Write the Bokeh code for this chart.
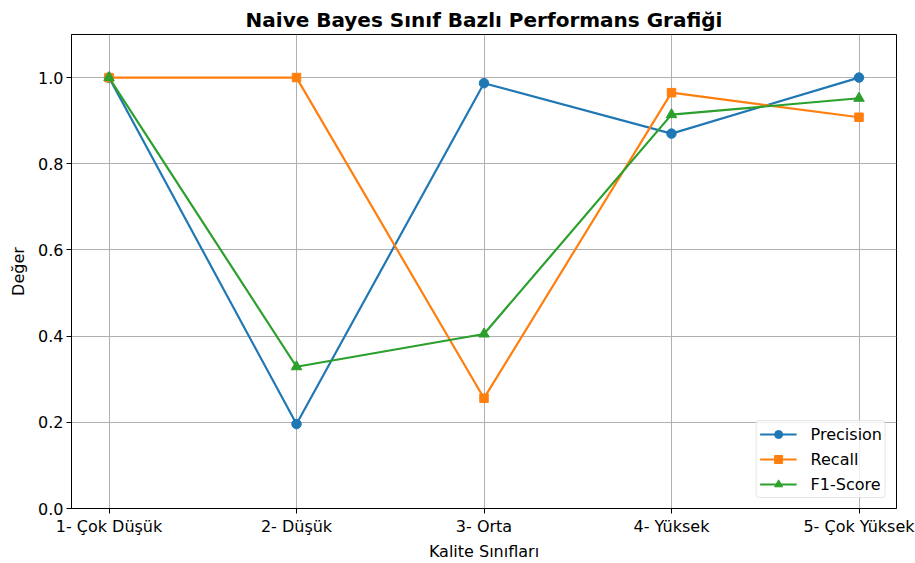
from bokeh.plotting import figure
from bokeh.models import FixedTicker, PrintfTickFormatter, Range1d, Legend, LegendItem
from bokeh.embed import file_html
from bokeh.resources import INLINE

classes = ["1- Çok Düşük", "2- Düşük", "3- Orta", "4- Yüksek", "5- Çok Yüksek"]
precision = [1.0, 0.196, 0.987, 0.870, 1.0]
recall = [1.0, 1.0, 0.256, 0.965, 0.908]
f1_score = [1.0, 0.329, 0.405, 0.914, 0.952]
y_ticks = [0.0, 0.2, 0.4, 0.6, 0.8, 1.0]

xs = list(range(len(classes)))
FONT = "DejaVu Sans"

p = figure(width=915, height=563, output_backend="svg", toolbar_location=None,
           x_range=Range1d(-0.2, 4.2), y_range=Range1d(0, 1.1),
           min_border_left=71, min_border_right=19, min_border_top=34, min_border_bottom=54)

p.title.text = "Naive Bayes Sınıf Bazlı Performans Grafiği"
p.title.align = "center"
p.title.text_font = FONT
p.title.text_font_size = "20px"
p.title.text_font_style = "bold"
p.title.text_color = "black"
p.title.standoff = 6

p.outline_line_color = "black"
p.outline_line_width = 1
p.outline_line_alpha = 1

colors = ["#1f77b4", "#ff7f0e", "#2ca02c"]
items = []
for name, vals, col, marker, size in [("Precision", precision, colors[0], "circle", 9.5),
                                       ("Recall", recall, colors[1], "square", 8.5),
                                       ("F1-Score", f1_score, colors[2], "triangle", 10.5)]:
    l = p.line(xs, vals, line_color=col, line_width=2.2)
    s = p.scatter(xs, vals, marker=marker, size=size, fill_color=col, line_color=col)
    items.append(LegendItem(label=name, renderers=[l, s]))

legend = Legend(items=items, location="bottom_right")
legend.label_text_font = FONT
legend.label_text_font_size = "16px"
legend.label_text_color = "black"
legend.border_line_color = "#cccccc"
legend.border_line_width = 1
legend.background_fill_alpha = 0.8
legend.margin = 10
legend.padding = 3
legend.spacing = 5
legend.glyph_width = 37
legend.glyph_height = 20
legend.label_height = 20
legend.label_standoff = 14
if "border_radius" in Legend.properties():
    legend.border_radius = 4
p.add_layout(legend)

p.xaxis.ticker = FixedTicker(ticks=xs)
p.xaxis.major_label_overrides = {i: c for i, c in enumerate(classes)}
p.yaxis.ticker = FixedTicker(ticks=y_ticks)
p.yaxis.formatter = PrintfTickFormatter(format="%.1f")

for ax in [p.xaxis[0], p.yaxis[0]]:
    ax.axis_line_color = "black"
    ax.major_tick_line_color = "black"
    ax.major_tick_out = 5
    ax.major_tick_in = 0
    ax.minor_tick_line_color = None
    ax.major_label_text_font = FONT
    ax.major_label_text_font_size = "16px"
    ax.major_label_text_color = "black"
    ax.axis_label_text_font = FONT
    ax.axis_label_text_font_size = "16px"
    ax.axis_label_text_font_style = "normal"
    ax.axis_label_text_color = "black"
    ax.major_label_standoff = 3

p.xaxis.axis_label = "Kalite Sınıfları"
p.yaxis.axis_label = "Değer"
p.xaxis.axis_label_standoff = 3
p.yaxis.axis_label_standoff = 7

p.xgrid.ticker = FixedTicker(ticks=xs)
p.grid.grid_line_color = "#b0b0b0"
p.grid.grid_line_width = 1

open("out.html", "w").write(file_html(p, INLINE))
